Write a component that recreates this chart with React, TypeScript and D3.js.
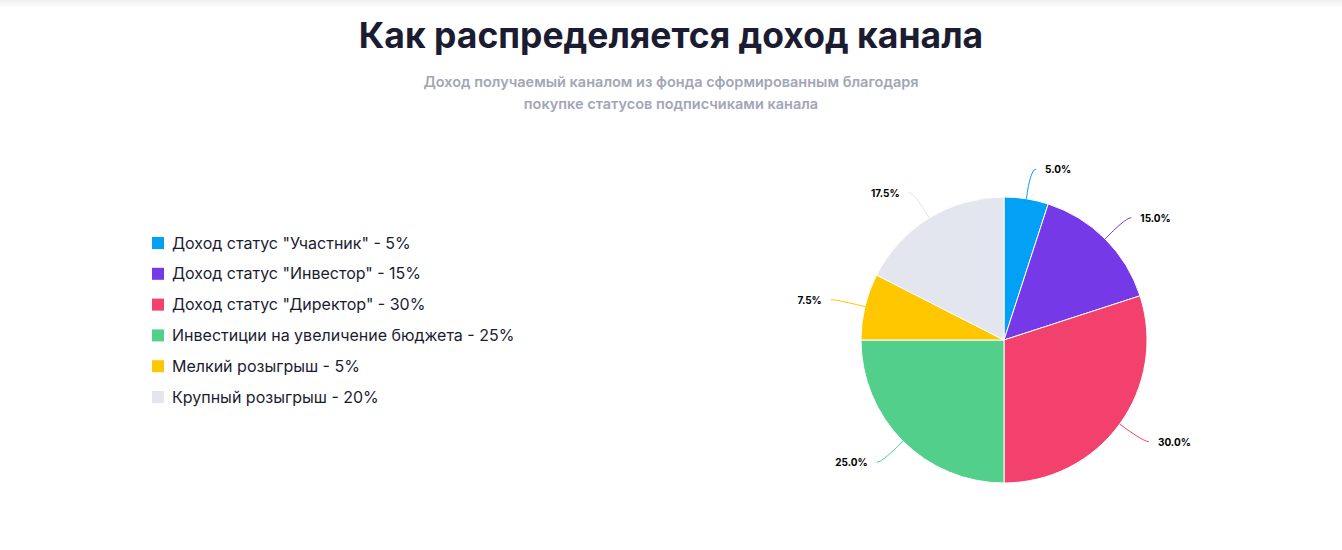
import React, { useEffect, useRef } from 'react';
import * as d3 from 'd3';

const categories = [
    'Доход статус "Участник" - 5%',
    'Доход статус "Инвестор" - 15%',
    'Доход статус "Директор" - 30%',
    'Инвестиции на увеличение бюджета - 25%',
    'Мелкий розыгрыш - 5%',
    'Крупный розыгрыш - 20%',
];
const values = [5, 15, 30, 25, 7.5, 17.5];
const colors = ['#03a1f5', '#7539e8', '#f3416d', '#52cf8b', '#ffc700', '#e3e5ef'];

const title = 'Как распределяется доход канала';
const subtitle = [
    'Доход получаемый каналом из фонда сформированным благодаря',
    'покупке статусов подписчиками канала',
];

export default function App() {
    const ref = useRef<SVGSVGElement>(null);

    useEffect(() => {
        if (!ref.current) return;
        const width = 1342;
        const height = 550;
        const font = 'Inter, "Noto Sans", sans-serif';

        const svg = d3.select(ref.current);
        svg.selectAll('*').remove();
        svg.attr('width', width).attr('height', height);

        svg.append('rect').attr('width', width).attr('height', height).attr('fill', '#fff');
        const grad = svg.append('defs').append('linearGradient')
            .attr('id', 'topShade').attr('x1', 0).attr('y1', 0).attr('x2', 0).attr('y2', 1);
        grad.append('stop').attr('offset', 0).attr('stop-color', '#f0f0f2');
        grad.append('stop').attr('offset', 1).attr('stop-color', '#ffffff');
        svg.append('rect').attr('width', width).attr('height', 8).attr('fill', 'url(#topShade)');

        // Title
        svg.append('text')
            .attr('x', 671).attr('y', 48)
            .attr('text-anchor', 'middle')
            .attr('font-family', font).attr('font-weight', 700).attr('font-size', 35.5)
            .attr('fill', '#1b1c32')
            .text(title);

        svg.append('g').selectAll('text')
            .data(subtitle)
            .enter()
            .append('text')
            .attr('x', 671).attr('y', (d, i) => 87 + i * 22)
            .attr('text-anchor', 'middle')
            .attr('font-family', font).attr('font-weight', 600).attr('font-size', 14.5)
            .attr('fill', '#a3a5b7')
            .text(d => d);

        // Legend
        const ly = d3.scalePoint().domain(categories).range([243, 397]);
        const legend = svg.append('g').selectAll('g')
            .data(categories)
            .enter()
            .append('g')
            .attr('transform', d => `translate(152,${ly(d)})`);
        legend.append('rect')
            .attr('x', 0).attr('y', -6).attr('width', 12).attr('height', 12)
            .attr('fill', (d, i) => colors[i]);
        legend.append('text')
            .attr('x', 20).attr('y', 5.5)
            .attr('font-family', font).attr('font-size', 16)
            .attr('fill', '#1b1c32')
            .text(d => d);

        // Pie
        const cx = 1004, cy = 340, r = 143, labelDist = 30;
        const total = d3.sum(values);
        const pie = d3.pie<number>().sort(null).value(d => d);
        const arc = d3.arc<d3.PieArcDatum<number>>().innerRadius(0).outerRadius(r);
        const arcs = pie(values);

        const g = svg.append('g').attr('transform', `translate(${cx},${cy})`);
        g.selectAll('path.slice')
            .data(arcs)
            .enter()
            .append('path')
            .attr('class', 'slice')
            .attr('d', arc)
            .attr('fill', (d, i) => colors[i])
            .attr('stroke', '#fff')
            .attr('stroke-width', 1);

        const pt = (a: number, rad: number) => [Math.sin(a) * rad, -Math.cos(a) * rad];

        arcs.forEach((d, i) => {
            const a = (d.startAngle + d.endAngle) / 2;
            const side = Math.sin(a) >= 0 ? 1 : -1;
            const [ex, ey] = pt(a, r);
            const [bx, by] = pt(a, r + 6);
            const [lx, ly2] = pt(a, r + labelDist);
            const path = `M${lx + side * 5},${ly2} C${lx},${ly2} ${2 * bx - ex},${2 * by - ey} ${bx},${by} L${ex},${ey}`;
            g.append('path')
                .attr('d', path)
                .attr('fill', 'none')
                .attr('stroke', colors[i])
                .attr('stroke-width', 1);
            g.append('text')
                .attr('x', lx + side * 14).attr('y', ly2 + 4)
                .attr('text-anchor', side > 0 ? 'start' : 'end')
                .attr('font-family', font).attr('font-weight', 700).attr('font-size', 10)
                .attr('fill', '#000')
                .text(d3.format('.1f')((d.value / total) * 100) + '%');
        });
    }, []);

    return <svg ref={ref} style={{ position: 'absolute', left: 0, top: 0, display: 'block' }} />;
}
